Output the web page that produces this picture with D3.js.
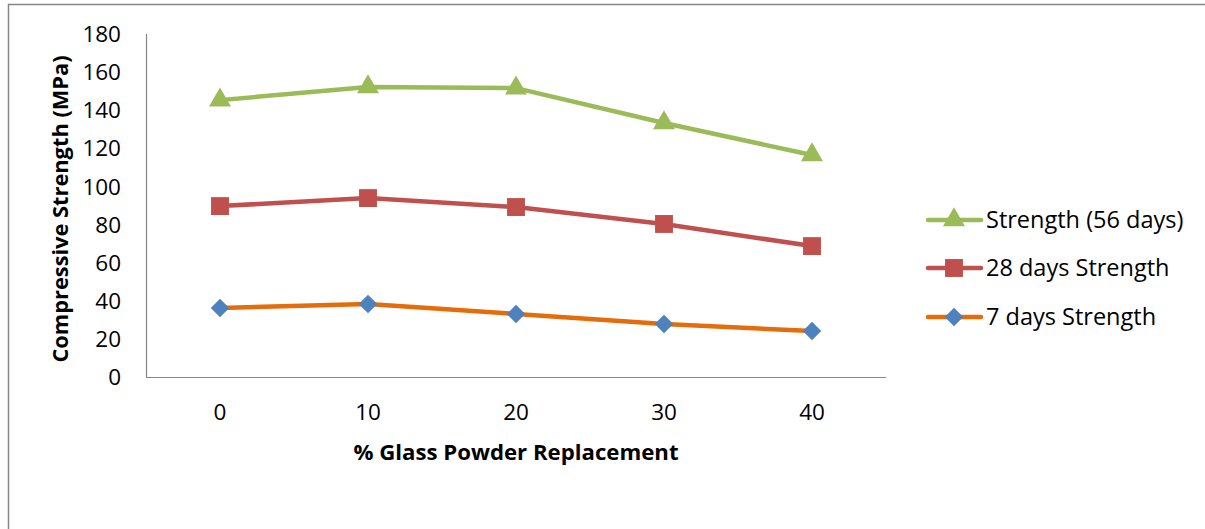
<!DOCTYPE html>
<html><head><meta charset="utf-8">
<script src="https://cdn.jsdelivr.net/npm/d3@7"></script>
<style>body{margin:0;background:#fff}svg{display:block;font-family:"Open Sans","Noto Sans",sans-serif}</style>
</head><body>
<svg id="c" width="1205" height="529"></svg>
<script>
const categories = ["0","10","20","30","40"];
const s56 = [145.3, 152.2, 151.6, 133.3, 116.5];
const s28 = [89.7, 93.9, 89.2, 80.3, 68.7];
const s7 = [36.2, 38.3, 33.1, 27.8, 24.1];
const yTicks = [0,20,40,60,80,100,120,140,160,180];
const seriesNames = ["Strength (56 days)","28 days Strength","7 days Strength"];

const series = [
  {name: seriesNames[0], values: s56, line: "#9BBB59", fill: "#9BBB59", sym: d3.symbolTriangle, size: 210, rot: 0},
  {name: seriesNames[1], values: s28, line: "#C0504D", fill: "#C0504D", sym: d3.symbolSquare, size: 320, rot: 0},
  {name: seriesNames[2], values: s7, line: "#E46C0A", fill: "#4F81BD", sym: d3.symbolSquare, size: 170, rot: 45}
];

const svg = d3.select("#c");
svg.append("path").attr("d","M8.5,529 L8.5,4.5 L1205,4.5").attr("fill","none").attr("stroke","#868686").attr("stroke-width",1.5);

const x = d3.scaleBand().domain(categories).range([146,886]);
const y = d3.scaleLinear().domain([0,180]).range([377,34]);

const g = svg.append("g");
g.append("line").attr("x1",146.5).attr("x2",146.5).attr("y1",y(180)).attr("y2",y(0)).attr("stroke","#868686").attr("stroke-width",1.2);
g.append("line").attr("x1",146).attr("x2",886).attr("y1",377.5).attr("y2",377.5).attr("stroke","#868686").attr("stroke-width",1.2);

const FS = 22.5;
g.selectAll(".yt").data(yTicks).enter().append("text")
  .attr("x",121).attr("y",d=>y(d)).attr("dy","0.36em").attr("text-anchor","end")
  .attr("font-size",FS).attr("fill","#000").text(d=>d);
g.selectAll(".xt").data(categories).enter().append("text")
  .attr("x",d=>x(d)+x.bandwidth()/2).attr("y",412).attr("dy","0.36em").attr("text-anchor","middle")
  .attr("font-size",FS).attr("fill","#000").text(d=>d);

svg.append("text").attr("x",516).attr("y",452).attr("dy","0.36em").attr("text-anchor","middle")
  .attr("font-size",22.2).attr("font-weight","bold").text("% Glass Powder Replacement");
svg.append("text").attr("transform","translate(60,209) rotate(-90)").attr("dy","0.36em").attr("text-anchor","middle")
  .attr("font-size",21.8).attr("font-weight","bold").text("Compressive Strength (MPa)");

const line = d3.line().x((d,i)=>x(categories[i])+x.bandwidth()/2).y(d=>y(d));
series.forEach(s=>{
  g.append("path").datum(s.values).attr("d",line).attr("fill","none").attr("stroke",s.line).attr("stroke-width",4.5).attr("stroke-linejoin","round");
  g.selectAll(null).data(s.values).enter().append("path")
    .attr("d",d3.symbol().type(s.sym).size(s.size))
    .attr("transform",(d,i)=>`translate(${x(categories[i])+x.bandwidth()/2},${y(d)}) rotate(${s.rot})`)
    .attr("fill",s.fill);
});

const legY = [220,268,317];
series.forEach((s,i)=>{
  const lg = svg.append("g").attr("transform",`translate(0,${legY[i]})`);
  lg.append("line").attr("x1",928).attr("x2",981).attr("y1",0).attr("y2",0).attr("stroke",s.line).attr("stroke-width",4.5).attr("stroke-linecap","round");
  lg.append("path").attr("d",d3.symbol().type(s.sym).size(s.size)).attr("transform",`translate(954,0) rotate(${s.rot})`).attr("fill",s.fill);
  lg.append("text").attr("x",986).attr("y",0).attr("dy","0.36em").attr("font-size",23.5).text(s.name);
});
</script>
</body></html>
